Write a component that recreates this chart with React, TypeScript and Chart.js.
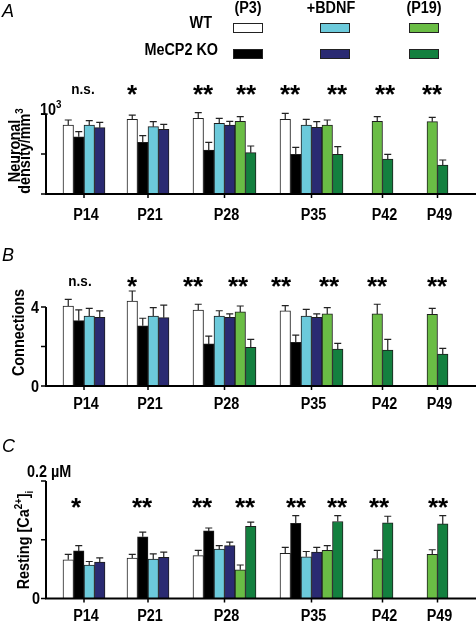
import React, { useEffect, useRef } from 'react';
import { Chart, registerables } from 'chart.js';

Chart.register(...registerables);

const FONT = '"Liberation Sans", Arial, Helvetica, sans-serif';
const WEIGHT = 'bold';
const SX = 0.9;

// ---------- categories & series ----------
const AGES = ['P14', 'P21', 'P28', 'P35', 'P42', 'P49'];
const SERIES_NAMES = ['WT (P3)', 'MeCP2 KO (P3)', 'WT +BDNF', 'MeCP2 KO +BDNF', 'WT (P19)', 'MeCP2 KO (P19)'];
const SERIES_COLORS = ['#ffffff', '#000000', '#6ccadb', '#2a2a72', '#6abd45', '#13803f'];
const LEGEND_ROWS = ['WT', 'MeCP2 KO'];
const LEGEND_COLS = ['(P3)', '+BDNF', '(P19)'];

// ---------- Panel A: neuronal density ----------
const A_WT_P3 = [862, 933, 946, 933, null, null];
const A_KO_P3 = [716, 646, 550, 496, null, null];
const A_WT_BDNF = [862, 842, 883, 862, null, null];
const A_KO_BDNF = [829, 808, 862, 833, null, null];
const A_WT_P19 = [null, null, 908, 862, 908, 904];
const A_KO_P19 = [null, null, 517, 496, 437, 362];
const A_ERR_WT_P3 = [63, 54, 71, 75, null, null];
const A_ERR_KO_P3 = [63, 83, 96, 87, null, null];
const A_ERR_WT_BDNF = [54, 62, 63, 71, null, null];
const A_ERR_KO_BDNF = [67, 63, 46, 71, null, null];
const A_ERR_WT_P19 = [null, null, 59, 63, 59, 54];
const A_ERR_KO_P19 = [null, null, 83, 96, 59, 63];
const A_SIG = ['n.s.', '*', '**', '**', '**', '**', '**', '**'];

// ---------- Panel B: connections ----------
const B_WT_P3 = [4.05, 4.3, 3.85, 3.8, null, null];
const B_KO_P3 = [3.31, 3.05, 2.13, 2.21, null, null];
const B_WT_BDNF = [3.54, 3.54, 3.54, 3.54, null, null];
const B_KO_BDNF = [3.48, 3.46, 3.48, 3.48, null, null];
const B_WT_P19 = [null, null, 3.75, 3.65, 3.65, 3.63];
const B_KO_P19 = [null, null, 1.96, 1.87, 1.82, 1.62];
const B_ERR_WT_P3 = [0.34, 0.51, 0.29, 0.27, null, null];
const B_ERR_KO_P3 = [0.54, 0.38, 0.4, 0.37, null, null];
const B_ERR_WT_BDNF = [0.39, 0.43, 0.27, 0.34, null, null];
const B_ERR_KO_BDNF = [0.32, 0.64, 0.17, 0.17, null, null];
const B_ERR_WT_P19 = [null, null, 0.3, 0.32, 0.49, 0.3];
const B_ERR_KO_P19 = [null, null, 0.4, 0.29, 0.54, 0.29];
const B_SIG = ['n.s.', '*', '**', '**', '**', '**', '**', '**'];

// ---------- Panel C: resting [Ca2+]i (µM) ----------
const C_WT_P3 = [0.066, 0.069, 0.073, 0.077, null, null];
const C_KO_P3 = [0.081, 0.105, 0.115, 0.128, null, null];
const C_WT_BDNF = [0.057, 0.067, 0.084, 0.071, null, null];
const C_KO_BDNF = [0.062, 0.07, 0.09, 0.079, null, null];
const C_WT_P19 = [null, null, 0.049, 0.082, 0.068, 0.075];
const C_KO_P19 = [null, null, 0.123, 0.131, 0.129, 0.127];
const C_ERR_WT_P3 = [0.009, 0.006, 0.009, 0.01, null, null];
const C_ERR_KO_P3 = [0.009, 0.008, 0.005, 0.013, null, null];
const C_ERR_WT_BDNF = [0.006, 0.009, 0.006, 0.009, null, null];
const C_ERR_KO_BDNF = [0.007, 0.009, 0.006, 0.008, null, null];
const C_ERR_WT_P19 = [null, null, 0.008, 0.008, 0.014, 0.008];
const C_ERR_KO_P19 = [null, null, 0.007, 0.01, 0.011, 0.014];
const C_SIG = ['*', '**', '**', '**', '**', '**', '**', '**'];

// ---------- layout (not data) ----------
const AXIS_LEFT = 46;
const X_RANGE = 430;
const GROUP_START = [17, 81, 147, 234, 326, 381];
const BAR_W = 10.5;
const A_SIG_X = [37, 86, 157, 200, 244, 291, 339, 386];
const B_SIG_X = [34, 86, 147, 192, 235, 283, 331, 391];
const C_SIG_X = [30, 96, 156, 199, 250, 291, 333, 392];

type Seg = { t: string; sup?: boolean; sub?: boolean };

function buildPoints(values: (number | null)[][], errors: (number | null)[][]) {
  const out: any[][] = values.map(() => []);
  AGES.forEach((_, g) => {
    let slot = 0;
    values.forEach((ser, s) => {
      const v = ser[g];
      if (v == null) return;
      out[s].push({ x: GROUP_START[g] + (slot + 0.5) * BAR_W, y: v, err: errors[s][g] || 0 });
      slot++;
    });
  });
  return out;
}

function groupCenter(values: (number | null)[][], g: number) {
  const n = values.filter((s) => s[g] != null).length;
  return GROUP_START[g] + (n * BAR_W) / 2;
}

function fontOf(size: number, style = '') {
  return `${style} ${WEIGHT} ${size}px ${FONT}`.trim();
}

function drawRich(ctx: CanvasRenderingContext2D, segs: Seg[], x: number, y: number, size: number, align: string) {
  const small = size * 0.68;
  const widths = segs.map((s) => {
    ctx.font = fontOf(s.sup || s.sub ? small : size);
    return ctx.measureText(s.t).width * SX;
  });
  const total = widths.reduce((a, b) => a + b, 0);
  let cx = align === 'left' ? x : align === 'center' ? x - total / 2 : x - total;
  ctx.textAlign = 'left';
  ctx.textBaseline = 'alphabetic';
  segs.forEach((s, i) => {
    ctx.font = fontOf(s.sup || s.sub ? small : size);
    const dy = s.sup ? -size * 0.42 : s.sub ? size * 0.22 : 0;
    ctx.save();
    ctx.translate(cx, y + dy);
    ctx.scale(SX, 1);
    ctx.fillText(s.t, 0, 0);
    ctx.restore();
    cx += widths[i];
  });
}

function drawCentered(ctx: CanvasRenderingContext2D, text: string, x: number, cy: number, font: string, sx: number) {
  ctx.font = font;
  ctx.textAlign = 'center';
  ctx.textBaseline = 'alphabetic';
  const m = ctx.measureText(text);
  const asc = m.actualBoundingBoxAscent;
  const desc = m.actualBoundingBoxDescent;
  ctx.save();
  ctx.translate(x, cy + (asc - desc) / 2);
  ctx.scale(sx, 1);
  ctx.fillText(text, 0, 0);
  ctx.restore();
}

const PANELS: any[] = [
  {
    key: 'A', top: 0, height: 230, padTop: 114, padBottom: 36,
    yMax: 1000, yTicks: [0, 500, 1000],
    values: [A_WT_P3, A_KO_P3, A_WT_BDNF, A_KO_BDNF, A_WT_P19, A_KO_P19],
    errors: [A_ERR_WT_P3, A_ERR_KO_P3, A_ERR_WT_BDNF, A_ERR_KO_BDNF, A_ERR_WT_P19, A_ERR_KO_P19],
    sig: A_SIG, sigX: A_SIG_X, sigY: 1300,
    letterY: 17, labelGap: 26,
    title: [
      { x: 20, segs: [{ t: 'Neuronal' }] },
      { x: 30, segs: [{ t: 'density/mm' }, { t: '3', sup: true }] },
    ],
    titleY: 151,
    tickTexts: [{ v: 1000, segs: [{ t: '10' }, { t: '3', sup: true }], x: 40, dy: 1, align: 'left' }],
    legend: true,
  },
  {
    key: 'B', top: 230, height: 190, padTop: 77, padBottom: 34,
    yMax: 4, yTicks: [0, 2, 4],
    values: [B_WT_P3, B_KO_P3, B_WT_BDNF, B_KO_BDNF, B_WT_P19, B_KO_P19],
    errors: [B_ERR_WT_P3, B_ERR_KO_P3, B_ERR_WT_BDNF, B_ERR_KO_BDNF, B_ERR_WT_P19, B_ERR_KO_P19],
    sig: B_SIG, sigX: B_SIG_X, sigY: 5.27,
    letterY: 31, labelGap: 23,
    title: [{ x: 24, segs: [{ t: 'Connections' }] }],
    titleY: 102.5,
    tickTexts: [
      { v: 4, segs: [{ t: '4' }], x: 39, dy: 5.5, align: 'right' },
      { v: 0, segs: [{ t: '0' }], x: 39, dy: 5.5, align: 'right' },
    ],
    legend: false,
  },
  {
    key: 'C', top: 420, height: 202, padTop: 61, padBottom: 23.5,
    yMax: 0.2, yTicks: [0, 0.1, 0.2],
    values: [C_WT_P3, C_KO_P3, C_WT_BDNF, C_KO_BDNF, C_WT_P19, C_KO_P19],
    errors: [C_ERR_WT_P3, C_ERR_KO_P3, C_ERR_WT_BDNF, C_ERR_KO_BDNF, C_ERR_WT_P19, C_ERR_KO_P19],
    sig: C_SIG, sigX: C_SIG_X, sigY: 0.162,
    letterY: 32, labelGap: 22.5,
    title: [{ x: 29, segs: [{ t: 'Resting [Ca' }, { t: '2+', sup: true }, { t: ']' }, { t: 'i', sub: true }] }],
    titleY: 120,
    tickTexts: [
      { v: 0, segs: [{ t: '0' }], x: 40, dy: 5, align: 'right' },
      { v: 0.2, segs: [{ t: '0.2 µM' }], x: 27, dy: -4, align: 'left' },
    ],
    legend: false,
  },
];

function decor(cfg: any) {
  return {
    id: 'decor' + cfg.key,
    afterDraw(chart: any) {
      const ctx: CanvasRenderingContext2D = chart.ctx;
      const xs = chart.scales.x;
      const ys = chart.scales.y;
      const X = (v: number) => xs.getPixelForValue(v);
      const Y = (v: number) => ys.getPixelForValue(v);
      const left = chart.chartArea.left;
      const right = chart.chartArea.right;
      ctx.save();

      // error bars (upper whisker only)
      ctx.strokeStyle = '#222';
      ctx.lineWidth = 1.2;
      chart.data.datasets.forEach((ds: any, di: number) => {
        const meta = chart.getDatasetMeta(di);
        meta.data.forEach((el: any, i: number) => {
          const pt = ds.data[i];
          const top = Y(pt.y + pt.err);
          ctx.beginPath();
          ctx.moveTo(el.x, el.y);
          ctx.lineTo(el.x, top);
          ctx.moveTo(el.x - 3.5, top);
          ctx.lineTo(el.x + 3.5, top);
          ctx.stroke();
        });
      });

      // axes
      ctx.strokeStyle = '#000';
      ctx.lineWidth = 2;
      ctx.beginPath();
      ctx.moveTo(left - 1, Y(0));
      ctx.lineTo(right, Y(0));
      ctx.moveTo(left, Y(0));
      ctx.lineTo(left, Y(cfg.yMax));
      ctx.stroke();
      ctx.lineWidth = 1.5;
      ctx.beginPath();
      cfg.yTicks.forEach((v: number) => {
        ctx.moveTo(left, Y(v));
        ctx.lineTo(left - 5, Y(v));
      });
      AGES.forEach((_, g) => {
        const cx = X(groupCenter(cfg.values, g));
        ctx.moveTo(cx, Y(0));
        ctx.lineTo(cx, Y(0) + 4);
      });
      ctx.stroke();

      ctx.fillStyle = '#000';
      // x labels
      AGES.forEach((lab, g) => {
        drawRich(ctx, [{ t: lab }], X(groupCenter(cfg.values, g)) + 2, Y(0) + cfg.labelGap, 16, 'center');
      });

      // y tick labels
      cfg.tickTexts.forEach((tt: any) => {
        drawRich(ctx, tt.segs, tt.x, Y(tt.v) + tt.dy, 16, tt.align);
      });

      // y title (rotated)
      cfg.title.forEach((line: any) => {
        ctx.save();
        ctx.translate(line.x, cfg.titleY);
        ctx.rotate(-Math.PI / 2);
        drawRich(ctx, line.segs, 0, 0, 16, 'center');
        ctx.restore();
      });

      // significance markers
      cfg.sig.forEach((t: string, i: number) => {
        if (t === 'n.s.') drawCentered(ctx, t, X(cfg.sigX[i]), Y(cfg.sigY), fontOf(15), SX);
        else drawCentered(ctx, t, X(cfg.sigX[i]), Y(cfg.sigY), `bold 26px ${FONT}`, 1);
      });

      // panel letter
      ctx.font = `italic 18px ${FONT}`;
      ctx.textAlign = 'left';
      ctx.textBaseline = 'alphabetic';
      ctx.fillText(cfg.key, 2, cfg.letterY);

      // legend
      if (cfg.legend) {
        const boxX = [233, 320, 409];
        const headX = [248, 331, 424];
        const rowY = [23, 49];
        const rowTextX = [212, 218];
        const rowTextY = [28, 55];
        LEGEND_COLS.forEach((h, c) => drawRich(ctx, [{ t: h }], headX[c], 13, 16, 'center'));
        LEGEND_ROWS.forEach((r, ri) => drawRich(ctx, [{ t: r }], rowTextX[ri], rowTextY[ri], 16, 'right'));
        ctx.lineWidth = 1;
        ctx.strokeStyle = '#222';
        LEGEND_COLS.forEach((_, c) => {
          LEGEND_ROWS.forEach((_, ri) => {
            const s = c * 2 + ri;
            ctx.fillStyle = SERIES_COLORS[s];
            ctx.fillRect(boxX[c], rowY[ri], 30, 10);
            ctx.strokeRect(boxX[c] + 0.5, rowY[ri] + 0.5, 29, 9);
          });
        });
      }
      ctx.restore();
    },
  };
}

function PanelChart({ cfg }: { cfg: any }) {
  const ref = useRef<HTMLCanvasElement>(null);
  useEffect(() => {
    if (!ref.current) return;
    const pts = buildPoints(cfg.values, cfg.errors);
    const chart = new Chart(ref.current, {
      type: 'bar',
      data: {
        datasets: SERIES_NAMES.map((name, s) => ({
          label: name,
          data: pts[s],
          backgroundColor: SERIES_COLORS[s],
          borderColor: '#1e1e1e',
          borderWidth: 1,
          borderSkipped: 'bottom',
          barThickness: BAR_W,
          grouped: false,
          clip: false,
        })),
      } as any,
      options: {
        responsive: false,
        animation: false,
        devicePixelRatio: 1,
        events: [],
        layout: { padding: { left: AXIS_LEFT, right: 0, top: cfg.padTop, bottom: cfg.padBottom } },
        scales: {
          x: { type: 'linear', min: 0, max: X_RANGE, display: false, offset: false },
          y: { type: 'linear', min: 0, max: cfg.yMax, display: false },
        },
        plugins: { legend: { display: false }, tooltip: { enabled: false } },
      } as any,
      plugins: [decor(cfg)],
    });
    return () => chart.destroy();
  }, []);
  return (
    <canvas
      ref={ref}
      width={476}
      height={cfg.height}
      style={{ position: 'absolute', left: 0, top: cfg.top, width: 476, height: cfg.height, display: 'block' }}
    />
  );
}

export default function App() {
  return (
    <div style={{ position: 'absolute', left: 0, top: 0, width: 476, height: 622, background: '#fff', overflow: 'hidden' }}>
      {PANELS.map((p) => (
        <PanelChart key={p.key} cfg={p} />
      ))}
    </div>
  );
}
